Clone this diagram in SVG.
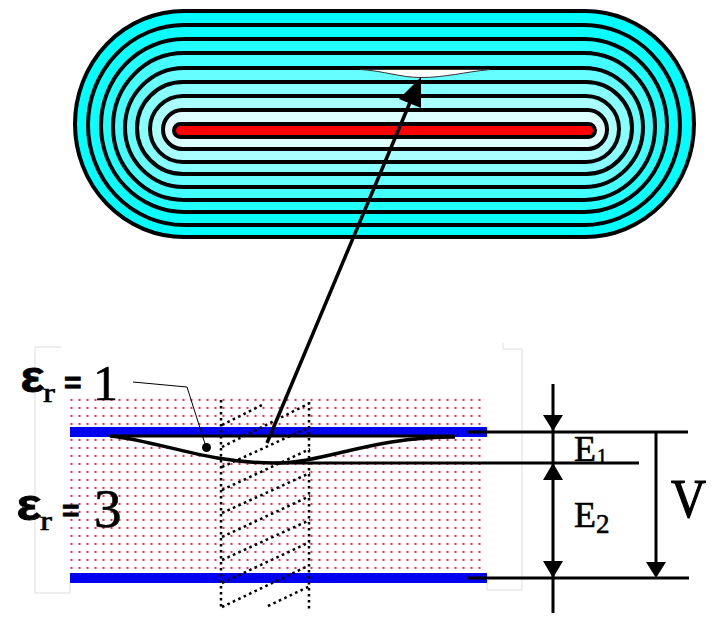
<svg xmlns="http://www.w3.org/2000/svg" width="724" height="622" viewBox="0 0 724 622">
<style>
.b{stroke:#000;stroke-width:4}
.l{stroke:#000;stroke-width:3;fill:none}
.c{stroke:#000;stroke-width:3.500;fill:none}
.d{stroke:#000;stroke-width:2.500;stroke-dasharray:2.6 3.4;fill:none}
.h{fill:#000}
.t{font-family:"Liberation Serif","Times New Roman",serif;fill:#000;stroke:#000;stroke-width:.6}
.s{font-family:"Liberation Sans",Arial,sans-serif;font-weight:700;fill:#000;stroke:#000;stroke-width:.8}
</style>
<defs>
<pattern id="dots" x="67.5" y="396" width="8" height="8" patternUnits="userSpaceOnUse">
<circle cx="4" cy="4" r="1.150" fill="#e02a58"/>
</pattern>
</defs>
<rect width="724" height="622" fill="#fff"/>
<g id="coil">
<rect class="b" x="75" y="11" width="619" height="226" rx="109" ry="113" fill="#00ffff"/>
<rect class="b" x="88" y="25" width="592" height="200" rx="96" ry="100" fill="#0affff"/>
<rect class="b" x="101" y="39" width="566" height="173" rx="83" ry="86.5" fill="#22ffff"/>
<rect class="b" x="113" y="53" width="542" height="147" rx="71" ry="73.5" fill="#44ffff"/>
<rect class="b" x="125" y="68" width="518" height="119" rx="59" ry="59.5" fill="#66ffff"/>
<rect class="b" x="137" y="82" width="495" height="92" rx="46" ry="46" fill="#88ffff"/>
<rect class="b" x="150" y="96" width="469" height="66" rx="33" ry="33" fill="#aaffff"/>
<rect class="b" x="163" y="110" width="444" height="39" rx="19.5" ry="19.5" fill="#ddffff"/>
<rect class="b" x="174" y="124" width="421" height="13" rx="6.5" ry="6.5" fill="#ff0000"/>
<path d="M360 69.500C385 71 400 77.500 421 77.500C445 77.500 465 72 490 69.500Z" fill="#fff" stroke="#333" stroke-width="1"/>
</g>
<g id="dielectric">
<path d="M35 593V347H61M70 583V593H35M503 343V349H522V590H487V583" fill="none" stroke="#ddd" stroke-width="1"/>
<rect x="67.500" y="396" width="416" height="178" fill="url(#dots)"/>
<path d="M110 436C160 441 205 463 275 463C325 463 370 437 455 437Z" fill="#fff"/>
<rect x="70" y="427" width="417" height="10" fill="#0000f0"/>
<rect x="70" y="573" width="417" height="10" fill="#0000f0"/>
</g>
<g id="hatch">
<path class="d" d="M221 400V607M309 402V610M222 425L262 405M222 447L310 403M222 467L310 427M222 490L310 449M222 513L310 473M222 537L310 496M222 560L310 520M222 583L310 542M222 607L310 565M268 606L310 586"/>
</g>
<g id="connectors">
<path class="l" d="M110 436H455"/>
<path class="c" d="M110 436C160 441 205 463 275 463C325 463 370 437 455 437"/>
<path class="l" d="M275 463H639M468 432H688M468 578H689M553 384V613M656 432V565"/>
<path class="c" d="M267 443L411 100"/>
<path class="h" d="M421 77L399 99L421 108Z"/>
<path class="h" d="M553 431L543 415H563ZM553 463L543 480H563ZM553 578L543 561H563ZM656 578L646 562H666Z"/>
<path d="M133 382L187 387L206 447" fill="none" stroke="#000" stroke-width="1"/>
<circle class="h" cx="206.500" cy="447.500" r="4.500"/>
</g>
<g id="labels">
<text class="s" x="20.500" y="392" font-size="44" textLength="24" lengthAdjust="spacingAndGlyphs">ε</text>
<text class="t" x="43" y="402" font-size="27" textLength="12" lengthAdjust="spacingAndGlyphs">r</text>
<text class="s" x="64" y="393" font-size="30">=</text>
<text class="t" x="93" y="400" font-size="50">1</text>
<text class="s" x="16.500" y="520" font-size="44" textLength="25" lengthAdjust="spacingAndGlyphs">ε</text>
<text class="t" x="40" y="530" font-size="27" textLength="12" lengthAdjust="spacingAndGlyphs">r</text>
<text class="s" x="62" y="521" font-size="30">=</text>
<text class="t" x="94" y="527" font-size="55">3</text>
<text class="t" x="574" y="461" font-size="36">E</text>
<text class="t" x="597" y="463" font-size="20">1</text>
<text class="t" x="574" y="527" font-size="36">E</text>
<text class="t" x="596" y="533" font-size="27">2</text>
<text class="t" x="671" y="517" font-size="54" textLength="35" lengthAdjust="spacingAndGlyphs" style="stroke-width:1.2">V</text>
</g>
</svg>
